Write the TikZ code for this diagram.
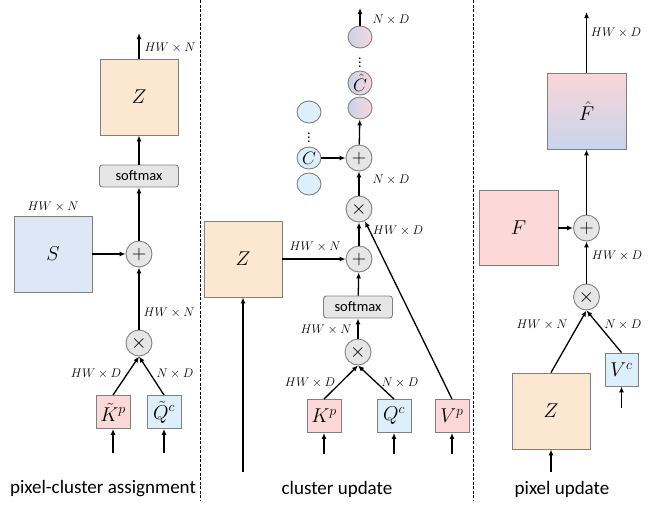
\RequirePackage{fix-cm}
\documentclass[tikz,border=0pt]{standalone}
\usepackage{fontspec}
\setmainfont{Carlito}
\usepackage{amsmath}
\usetikzlibrary{arrows.meta,shapes.geometric}
\definecolor{zfill}{RGB}{252,231,208}
\definecolor{sfill}{RGB}{220,232,245}
\definecolor{pfill}{RGB}{252,216,216}
\definecolor{qfill}{RGB}{220,239,250}
\definecolor{gfill}{RGB}{230,230,230}
\definecolor{bordc}{RGB}{128,128,128}
\definecolor{gradb}{RGB}{200,212,236}
\definecolor{gradp}{RGB}{250,214,216}
\tikzset{
  arr/.style={line width=1.3pt,-{Latex[length=6pt,width=5pt]}},
  box/.style={draw=bordc,line width=0.9pt,inner sep=0pt,font=\fontsize{20}{20}\selectfont},
  bigbox/.style={box,minimum width=78pt,minimum height=76pt},
  smallbox/.style={box,minimum width=34pt,minimum height=33pt},
  zb/.style={bigbox,fill=zfill},
  sb/.style={bigbox,fill=sfill},
  pb/.style={bigbox,fill=pfill},
  kb/.style={smallbox,fill=pfill},
  qb/.style={smallbox,fill=qfill},
  smb/.style={draw=bordc,line width=0.9pt,fill=gfill,rounded corners=3pt,minimum height=22pt,inner sep=0pt,font=\fontsize{14.5}{14.5}\selectfont},
  op/.style={circle,draw=bordc,line width=0.9pt,fill=gfill,minimum size=26pt,inner sep=0pt,font=\fontsize{20}{20}\selectfont},
  cl/.style={ellipse,draw=bordc,line width=0.9pt,fill=qfill,minimum width=24pt,minimum height=22pt,inner sep=0pt,font=\fontsize{18}{18}\selectfont},
  ch/.style={ellipse,draw=bordc,line width=0.9pt,left color=gradb,right color=gradp,minimum width=24pt,minimum height=22pt,inner sep=0pt,font=\fontsize{18}{18}\selectfont},
  lab/.style={font=\fontsize{12.5}{12.5}\selectfont,inner sep=0pt},
  captxt/.style={font=\fontsize{19}{19}\selectfont,inner sep=0pt},
  vdts/.style={font=\fontsize{14}{14}\selectfont,inner sep=0pt},
  sep/.style={line width=1pt,dash pattern=on 3pt off 1.5pt},
}
\begin{document}
\begin{tikzpicture}[x=1pt,y=-1pt]
\useasboundingbox (0,0) rectangle (653,507);
% separators
\coordinate (d1a) at (200,0); \coordinate (d1b) at (200,500);
\coordinate (d2a) at (473,0); \coordinate (d2b) at (473,500);
\draw[sep] (d1a) -- (d1b);
\draw[sep] (d2a) -- (d2b);

% ---------- left panel ----------
\node[zb] (Z1) at (139,97) {$Z$};
\node[smb,minimum width=79pt] (sm1) at (139,176) {softmax};
\node[op] (p1) at (139,254) {$+$};
\node[sb] (S) at (53,254) {$S$};
\node[op] (m1) at (139,343) {$\times$};
\node[kb] (K1) at (113,412) {$\tilde K^p$};
\node[qb] (Q1) at (164,412) {$\tilde Q^c$};
\coordinate (K1in) at (113,453);
\coordinate (Q1in) at (164,453);
\coordinate (Z1out) at (139,33);
\draw[arr] (Z1.north) -- (Z1out);
\draw[arr] (sm1) -- (Z1);
\draw[arr] (p1) -- (sm1);
\draw[arr] (S) -- (p1);
\draw[arr] (m1) -- (p1);
\draw[arr] (K1.north) -- (m1.south);
\draw[arr] (Q1.north) -- (m1.south);
\draw[arr] (K1in) -- (K1);
\draw[arr] (Q1in) -- (Q1);
\node[lab] (l1) at (170,48) {$HW \times N$};
\node[lab] (l2) at (53,207) {$HW \times N$};
\node[lab] (l3) at (169,313) {$HW \times N$};
\node[lab] (l4) at (96,374) {$HW \times D$};
\node[lab] (l5) at (175,374) {$N \times D$};
\node[captxt] (c1) at (103,489) {pixel-cluster assignment};

% ---------- middle panel ----------
\node[zb] (Z2) at (243,259) {$Z$};
\coordinate (Z2in) at (243,472);
\node[op] (p2) at (359,259) {$+$};
\node[smb,minimum width=69pt] (sm2) at (358,307) {softmax};
\node[op] (m2) at (358,352) {$\times$};
\node[kb] (K2) at (324,416) {$K^p$};
\node[qb] (Q2) at (394,416) {$Q^c$};
\node[kb] (V2) at (452,416) {$V^p$};
\coordinate (K2in) at (324,454);
\coordinate (Q2in) at (394,454);
\coordinate (V2in) at (452,454);
\node[op] (m3) at (359,209) {$\times$};
\node[op] (p3) at (359,158) {$+$};
\node[cl] (Ca) at (309,112) {};
\node[vdts] (Cd) at (309,135) {$\vdots$};
\node[cl] (Cb) at (309,158) {$C$};
\node[cl] (Cc) at (309,184) {};
\node[ch] (Ha) at (360,37) {};
\node[vdts] (Hd) at (360,60) {$\vdots$};
\node[ch] (Hb) at (360,83) {$\hat C$};
\node[ch] (Hc) at (360,108) {};
\coordinate (Cout) at (360,8);
\draw[arr] (Z2in) -- (Z2.south);
\draw[arr] (Z2) -- (p2);
\draw[arr] (sm2) -- (p2);
\draw[arr] (m2) -- (sm2);
\draw[arr] (K2.north) -- (m2.south);
\draw[arr] (Q2.north) -- (m2.south);
\draw[arr] (K2in) -- (K2);
\draw[arr] (Q2in) -- (Q2);
\draw[arr] (V2in) -- (V2);
\draw[arr] (V2.north) -- (m3);
\draw[arr] (p2) -- (m3);
\draw[arr] (m3) -- (p3);
\draw[arr] (Cb) -- (p3);
\draw[arr] (p3) -- (Hc);
\draw[arr] (Ha) -- (Cout);
\node[lab] (l6) at (391,20) {$N \times D$};
\node[lab] (l7) at (391,180) {$N \times D$};
\node[lab] (l8) at (398,231) {$HW \times D$};
\node[lab] (l9) at (315,247) {$HW \times N$};
\node[lab] (l10) at (326,330) {$HW \times N$};
\node[lab] (l11) at (310,383) {$HW \times D$};
\node[lab] (l12) at (400,383) {$N \times D$};
\node[captxt] (c2) at (337,489) {cluster update};

% ---------- right panel ----------
\node[bigbox,minimum width=79pt,top color=gradp,bottom color=gradb] (Fh) at (586.5,111) {$\hat F$};
\coordinate (Fout) at (586.5,12);
\node[op] (p4) at (586.5,228) {$+$};
\node[pb,minimum width=79pt,minimum height=75pt] (F) at (518.5,228) {$F$};
\node[op] (m4) at (586.5,297) {$\times$};
\node[zb] (Z3) at (551,411) {$Z$};
\node[qb,minimum width=33pt] (Vc) at (621.5,369.5) {$V^c$};
\coordinate (Vcin) at (621.5,408);
\coordinate (Z3in) at (551,472);
\draw[arr] (Fh.north) -- (Fout);
\draw[arr] (p4) -- (Fh);
\draw[arr] (F) -- (p4);
\draw[arr] (m4) -- (p4);
\draw[arr] (Z3.north) -- (m4.south);
\draw[arr] (Vc.north) -- (m4.south);
\draw[arr] (Vcin) -- (Vc);
\draw[arr] (Z3in) -- (Z3);
\node[lab] (l13) at (616,33) {$HW \times D$};
\node[lab] (l14) at (617,256) {$HW \times D$};
\node[lab] (l15) at (542,325) {$HW \times N$};
\node[lab] (l16) at (623,325) {$N \times D$};
\node[captxt] (c3) at (562,489) {pixel update};
\end{tikzpicture}
\end{document}
